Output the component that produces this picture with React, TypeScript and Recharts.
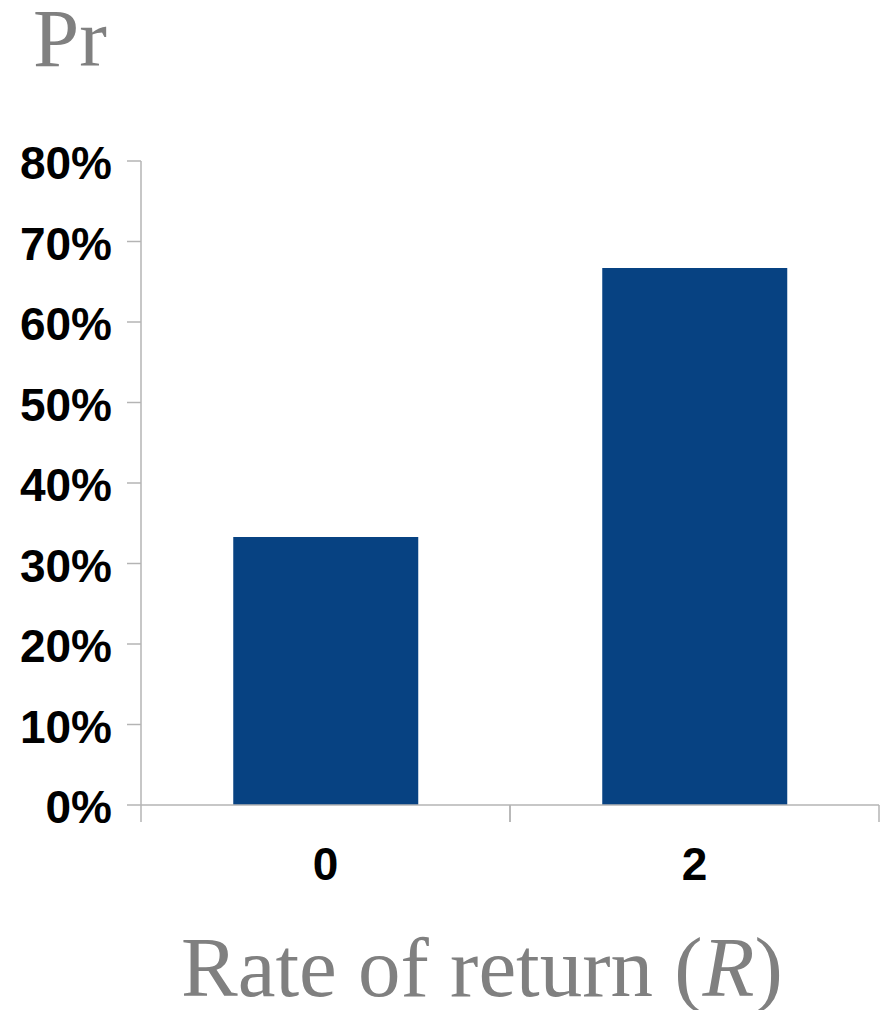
import { Bar, BarChart, XAxis, YAxis } from "recharts";

// probability of each rate-of-return outcome
const returns = ["0", "2"];
const probabilities = [0.333, 0.667];
const yTicks = [0, 0.1, 0.2, 0.3, 0.4, 0.5, 0.6, 0.7, 0.8];

const data = returns.map((r, i) => ({ r, p: probabilities[i] }));

const AXIS = "#b4b4b4";
const BAR = "#074282";
const X_TICK_GAP = 42;
const X_TICK_LEN = 17;
const tickFont = { fontFamily: "'Liberation Sans', Arial, sans-serif", fontWeight: 700, fontSize: 46, fill: "#000" };
const serif = "'Liberation Serif', 'Times New Roman', serif";

// category label plus tick marks on both edges of its band
function CategoryTick(props: any) {
  const { x, y, payload } = props;
  const half = payload?.offset ?? 0;
  const axisY = y - X_TICK_GAP;
  return (
    <g>
      <line x1={x - half} x2={x - half} y1={axisY} y2={axisY + X_TICK_LEN} stroke={AXIS} strokeWidth={1.5} />
      <line x1={x + half} x2={x + half} y1={axisY} y2={axisY + X_TICK_LEN} stroke={AXIS} strokeWidth={1.5} />
      <text x={x} y={y} dy="0.71em" textAnchor="middle" {...tickFont}>
        {payload.value}
      </text>
    </g>
  );
}

export default function App() {
  return (
    <div style={{ position: "absolute", left: 0, top: 0, width: 891, height: 1010, background: "#fff" }}>
      <BarChart
        width={891}
        height={1010}
        data={data}
        margin={{ top: 161, right: 12, bottom: 0, left: 0 }}
        barCategoryGap="25%"
      >
        <XAxis
          dataKey="r"
          height={205}
          axisLine={{ stroke: AXIS, strokeWidth: 1.5 }}
          tickLine={false}
          tickSize={0}
          tickMargin={X_TICK_GAP}
          tick={<CategoryTick />}
        />
        <YAxis
          width={141}
          domain={[0, 0.8]}
          ticks={yTicks}
          interval={0}
          tickFormatter={(v: number) => `${Math.round(v * 100)}%`}
          axisLine={{ stroke: AXIS, strokeWidth: 1.5 }}
          tickLine={{ stroke: AXIS, strokeWidth: 1.5 }}
          tickSize={14}
          tickMargin={15}
          tick={{ ...tickFont, dy: 2 }}
        />
        <Bar dataKey="p" fill={BAR} isAnimationActive={false} />
      </BarChart>
      <svg width={891} height={1010} style={{ position: "absolute", left: 0, top: 0, pointerEvents: "none" }}>
        <text x={33} y={66} fontFamily={serif} fontSize={83} fill="#808080">
          Pr
        </text>
        <text x={181} y={996} fontFamily={serif} fontSize={85} fill="#808080">
          Rate of return (<tspan fontStyle="italic">R</tspan>)
        </text>
      </svg>
    </div>
  );
}
